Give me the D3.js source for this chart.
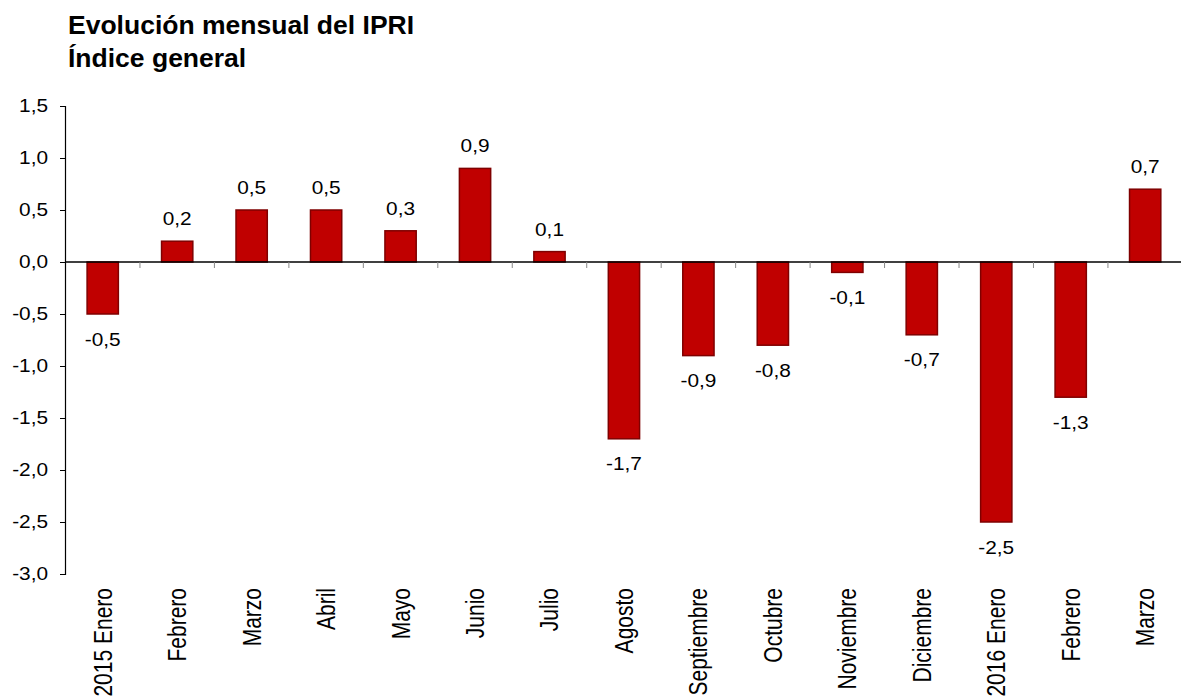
<!DOCTYPE html>
<html>
<head>
<meta charset="utf-8">
<script src="https://cdn.jsdelivr.net/npm/d3@7"></script>
<style>
  body { margin: 0; background: #fff; }
  text { font-family: "Liberation Sans", Arial, sans-serif; fill: #000; }
</style>
</head>
<body>
<div id="chart"></div>
<script>
// data
const months = ["2015 Enero", "Febrero", "Marzo", "Abril", "Mayo", "Junio", "Julio",
  "Agosto", "Septiembre", "Octubre", "Noviembre", "Diciembre", "2016 Enero", "Febrero", "Marzo"];
const values = [-0.5, 0.2, 0.5, 0.5, 0.3, 0.9, 0.1, -1.7, -0.9, -0.8, -0.1, -0.7, -2.5, -1.3, 0.7];
const yTicks = [1.5, 1.0, 0.5, 0.0, -0.5, -1.0, -1.5, -2.0, -2.5, -3.0];

const width = 1181, height = 698;
const stretch = 1.19; // the original text is drawn a bit wider than tall
const fmt = v => d3.format(".1f")(v).replace(".", ",").replace("−", "-");

const svg = d3.select("#chart").append("svg")
  .attr("width", width)
  .attr("height", height);

// title
const title = svg.append("text")
  .attr("x", 68)
  .attr("y", 33.5)
  .style("font-size", "26.5px")
  .style("font-weight", "bold");
title.append("tspan").attr("x", 68).text("Evolución mensual del IPRI");
title.append("tspan").attr("x", 68).attr("dy", 33.5).text("Índice general");

// scales
const idx = d3.range(months.length);
const x = d3.scaleBand()
  .domain(idx)
  .range([65.5, 1182.4])
  .padding(0);

const y = d3.scaleLinear()
  .domain([-3, 1.5])
  .range([574, 106]);

// y axis
svg.append("g")
  .attr("transform", "translate(65,0)")
  .call(d3.axisLeft(y).tickValues(yTicks).tickSize(5).tickFormat(fmt))
  .call(g => g.select(".domain").attr("stroke", "#000").attr("stroke-width", 1.2))
  .call(g => g.selectAll(".tick line").attr("stroke", "#000"))
  .call(g => g.selectAll(".tick text")
    .attr("x", null)
    .attr("transform", `translate(-17,0) scale(${stretch},1)`)
    .style("font-size", "17.5px")
    .style("font-family", "'Liberation Sans', Arial, sans-serif")
    .attr("fill", "#000"));

// bars
const barW = x.bandwidth() * 0.42;
svg.append("g").selectAll("rect")
  .data(values)
  .join("rect")
  .attr("x", (d, i) => x(i) + (x.bandwidth() - barW) / 2)
  .attr("y", d => y(Math.max(0, d)))
  .attr("width", barW)
  .attr("height", d => Math.abs(y(d) - y(0)))
  .attr("fill", "#c00000")
  .attr("stroke", "#7f0000")
  .attr("stroke-width", 1.5);

// zero axis with ticks between categories
const xAxis = svg.append("g")
  .attr("transform", `translate(0,${y(0)})`);
xAxis.append("line")
  .attr("x1", 65).attr("x2", width)
  .attr("stroke", "#000").attr("stroke-width", 1.5);
xAxis.selectAll(".sep")
  .data(idx.slice(1))
  .join("line")
  .attr("class", "sep")
  .attr("x1", i => x(i)).attr("x2", i => x(i))
  .attr("y1", 0).attr("y2", 6)
  .attr("stroke", "#888").attr("stroke-width", 1);

// value labels
svg.append("g").selectAll("text")
  .data(values)
  .join("text")
  .attr("transform", (d, i) => {
    const ty = d >= 0 ? y(d) - 16 : y(d) + 31.5;
    return `translate(${x(i) + x.bandwidth() / 2},${ty}) scale(${stretch},1)`;
  })
  .attr("text-anchor", "middle")
  .style("font-size", "17.5px")
  .text(d => fmt(d));

// category labels (rotated)
svg.append("g").selectAll("text")
  .data(months)
  .join("text")
  .attr("transform", (d, i) =>
    `translate(${x(i) + x.bandwidth() / 2 + 9},588) scale(${stretch},1) rotate(-90)`)
  .attr("text-anchor", "end")
  .style("font-size", "21px")
  .text(d => d);
</script>
</body>
</html>
